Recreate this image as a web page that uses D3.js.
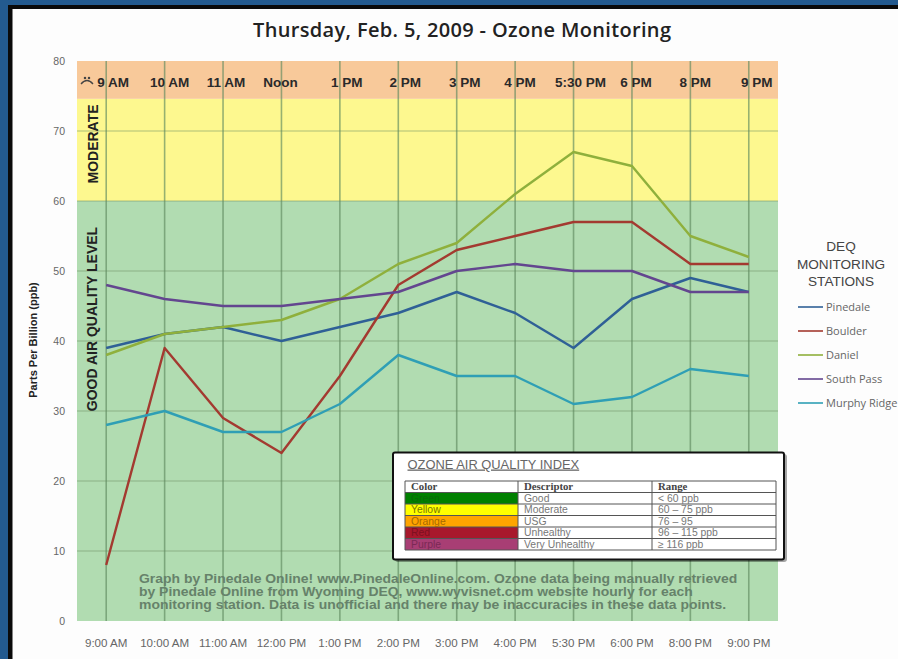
<!DOCTYPE html>
<html><head><meta charset="utf-8">
<script src="https://cdn.jsdelivr.net/npm/d3@7"></script>
<style>
html,body{margin:0;padding:0;background:#fff}
svg{display:block}
text{font-family:"Liberation Sans",Arial,sans-serif}
</style></head><body>
<svg id="c" width="898" height="659"></svg>
<script>
const categories=["9:00 AM","10:00 AM","11:00 AM","12:00 PM","1:00 PM","2:00 PM","3:00 PM","4:00 PM","5:30 PM","6:00 PM","8:00 PM","9:00 PM"];
const topLabels=["9 AM","10 AM","11 AM","Noon","1 PM","2 PM","3 PM","4 PM","5:30 PM","6 PM","8 PM","9 PM"];
const yTicks=[0,10,20,30,40,50,60,70,80];
const pinedale=[39,41,42,40,42,44,47,44,39,46,49,47];
const boulder=[8,39,29,24,35,48,53,55,57,57,51,51];
const daniel=[38,41,42,43,46,51,54,61,67,65,55,52];
const southPass=[48,46,45,45,46,47,50,51,50,50,47,47];
const murphyRidge=[28,30,27,27,31,38,35,35,31,32,36,35];
const seriesNames=["Pinedale","Boulder","Daniel","South Pass","Murphy Ridge"];
const seriesValues=[pinedale,boulder,daniel,southPass,murphyRidge];
const seriesColors=["#2f6096","#a33a30","#8fb03c","#63468f","#2f9fb5"];
const bandRanges=[[0,60],[60,74.6],[74.6,80]];
const bandColors=["#b1dcb1","#fdf88f","#f8c99a"];
const aqiHeader=["Color","Descriptor","Range"];
const aqiColorNames=["Green","Yellow","Orange","Red","Purple"];
const aqiDescriptors=["Good","Moderate","USG","Unhealthy","Very Unhealthy"];
const aqiRanges=["< 60 ppb","60 – 75 ppb","76 – 95","96 – 115 ppb","≥ 116 ppb"];
const aqiFills=["#008000","#ffff00","#ffa500","#a8182c","#a83e74"];
const noteLines=["Graph by Pinedale Online! www.PinedaleOnline.com. Ozone data being manually retrieved","by Pinedale Online from Wyoming DEQ, www.wyvisnet.com website hourly for each","monitoring station. Data is unofficial and there may be inaccuracies in these data points."];
const noteWidths=[598,554,587];
const topOffsets=[7,5,3,-1,7,7,8,5,7,4,5,8];

const svg=d3.select("#c");
svg.append("rect").attr("width",898).attr("height",659).attr("fill","#235a8f");
svg.append("rect").attr("x",8).attr("y",5).attr("width",890).attr("height",654).attr("fill","#0a0a0a");
svg.append("rect").attr("x",12.5).attr("y",9).attr("width",886).attr("height",650).attr("fill","#fdfdfd");

const x=d3.scaleBand().domain(categories).range([77,778]);
const y=d3.scaleLinear().domain([0,80]).range([621,61]);
const cx=c=>x(c)+x.bandwidth()/2;

svg.append("g").selectAll("rect").data(bandRanges).join("rect")
 .attr("x",77).attr("width",701)
 .attr("y",d=>y(d[1])).attr("height",d=>y(d[0])-y(d[1]))
 .attr("fill",(d,i)=>bandColors[i]);

const grid=svg.append("g");
grid.selectAll("line.h").data(yTicks.slice(1,8)).join("line").attr("class","h")
 .attr("x1",77).attr("x2",778).attr("y1",d=>y(d)).attr("y2",d=>y(d))
 .attr("stroke","#6f8f62").attr("stroke-opacity",.55).attr("stroke-width",1);
grid.selectAll("line.v").data(categories).join("line").attr("class","v")
 .attr("x1",cx).attr("x2",cx).attr("y1",61).attr("y2",621)
 .attr("stroke","#5f8a5f").attr("stroke-opacity",.65).attr("stroke-width",1.6);

const yAxis=svg.append("g").attr("transform","translate(67,0)").call(d3.axisLeft(y).tickValues(yTicks).tickSize(0).tickPadding(2));
yAxis.select(".domain").remove();
yAxis.selectAll("text").attr("font-size",10.5).attr("fill","#666").attr("font-family","Liberation Sans");
const xAxis=svg.append("g").attr("transform","translate(0,636)").call(d3.axisBottom(x).tickSize(0).tickPadding(3));
xAxis.select(".domain").remove();
xAxis.selectAll("text").attr("font-size",11.6).attr("fill","#666").attr("font-family","Liberation Sans");

svg.append("text").attr("x",462).attr("y",37).attr("text-anchor","middle")
 .attr("font-size",20).attr("fill","#222").style("font-family","'Open Sans'").attr("font-weight",600).attr("textLength",418).text("Thursday, Feb. 5, 2009 - Ozone Monitoring");
svg.append("text").attr("transform","translate(37,340) rotate(-90)").attr("text-anchor","middle")
 .attr("font-size",11).attr("font-weight",700).attr("fill","#222").text("Parts Per Billion  (ppb)");

svg.append("text").attr("transform","translate(98,144) rotate(-90)").attr("text-anchor","middle")
 .attr("font-size",14).attr("font-weight",700).attr("fill","#222").text("MODERATE");
svg.append("text").attr("transform","translate(97,319) rotate(-90)").attr("text-anchor","middle")
 .attr("font-size",14).attr("font-weight",700).attr("fill","#222").text("GOOD AIR QUALITY LEVEL");
// frown icon
const frown=svg.append("g").attr("fill","none").attr("stroke","#444").attr("stroke-width",1.3);
frown.append("path").attr("d","M81,84 Q87,77 93,84");
frown.append("circle").attr("cx",85).attr("cy",78).attr("r",.6);
frown.append("circle").attr("cx",89).attr("cy",78).attr("r",.6);

svg.append("g").selectAll("text").data(topLabels).join("text")
 .attr("x",(d,i)=>cx(categories[i])+topOffsets[i]).attr("y",87).attr("text-anchor","middle")
 .attr("font-size",13.5).attr("font-weight",700).attr("fill","#2a2a2a").text(d=>d);

const line=d3.line().x((d,i)=>cx(categories[i])).y(d=>y(d));
svg.append("g").selectAll("path").data(seriesValues).join("path")
 .attr("d",line).attr("fill","none").attr("stroke-width",2.4)
 .attr("stroke",(d,i)=>seriesColors[i]).attr("stroke-linejoin","round");

svg.append("g").selectAll("text").data(noteLines).join("text")
 .attr("font-size",12.2).attr("font-weight",700).attr("fill","#66826a").text(d=>d)
 .attr("transform",function(d,i){
   const sx=noteWidths[i]/this.getComputedTextLength();
   return `translate(139,${583+i*13}) scale(${sx},1)`;
 });

const box=svg.append("g");
box.append("rect").attr("x",395).attr("y",454).attr("width",392).attr("height",108).attr("fill","#000").attr("opacity",.35).attr("rx",3);
box.append("rect").attr("x",393).attr("y",452.5).attr("width",391).attr("height",107).attr("fill","#fff").attr("stroke","#111").attr("stroke-width",2).attr("rx",2);
box.append("text").attr("x",407.5).attr("y",468.5).attr("font-size",12.9).attr("fill","#666").attr("text-decoration","underline").text("OZONE AIR QUALITY INDEX");
const colX=[405,518,652,776];
const rowY=d3.range(7).map(i=>481+i*11.5);
box.selectAll("rect.f").data(aqiFills).join("rect").attr("class","f")
 .attr("x",colX[0]).attr("width",colX[1]-colX[0]).attr("y",(d,i)=>rowY[i+1]).attr("height",11.5).attr("fill",d=>d);
box.selectAll("line.r").data(rowY).join("line").attr("class","r")
 .attr("x1",colX[0]).attr("x2",colX[3]).attr("y1",d=>d).attr("y2",d=>d).attr("stroke","#555").attr("stroke-width",1);
box.selectAll("line.c").data(colX).join("line").attr("class","c")
 .attr("x1",d=>d).attr("x2",d=>d).attr("y1",rowY[0]).attr("y2",rowY[6]).attr("stroke","#555").attr("stroke-width",1);
box.selectAll("text.hd").data(aqiHeader).join("text").attr("class","hd")
 .attr("x",(d,i)=>colX[i]+6).attr("y",rowY[0]+9).attr("font-size",10.8).attr("font-weight",700).style("font-family","'Liberation Serif'").attr("fill","#444").text(d=>d);
const rows=[[aqiColorNames,0,["#0a6a0a","#777700","#a86a00","#7e1020","#7a2a55"]],[aqiDescriptors,1],[aqiRanges,2]];
rows.forEach(([arr,col,cols],k)=>{
 box.selectAll("text.t"+k).data(arr).join("text").attr("class","t"+k)
  .attr("x",colX[col]+6).attr("y",(d,i)=>rowY[i+1]+9.4).attr("font-size",10.4)
  .attr("fill",(d,i)=>cols?cols[i]:"#777").text(d=>d);
});

svg.append("g").selectAll("text").data(["DEQ","MONITORING","STATIONS"]).join("text")
 .attr("x",841).attr("y",(d,i)=>251+i*17.5).attr("text-anchor","middle").attr("font-size",13.6).attr("fill","#444").text(d=>d);
const lg=svg.append("g").selectAll("g").data(seriesNames).join("g").attr("transform",(d,i)=>`translate(0,${307+i*24})`);
lg.append("line").attr("x1",798).attr("x2",823).attr("stroke",(d,i)=>seriesColors[i]).attr("stroke-width",1.6);
lg.append("text").attr("x",826).attr("y",4).attr("font-size",11).attr("fill","#666").style("font-family","'Open Sans'").text(d=>d);
</script>
</body></html>
